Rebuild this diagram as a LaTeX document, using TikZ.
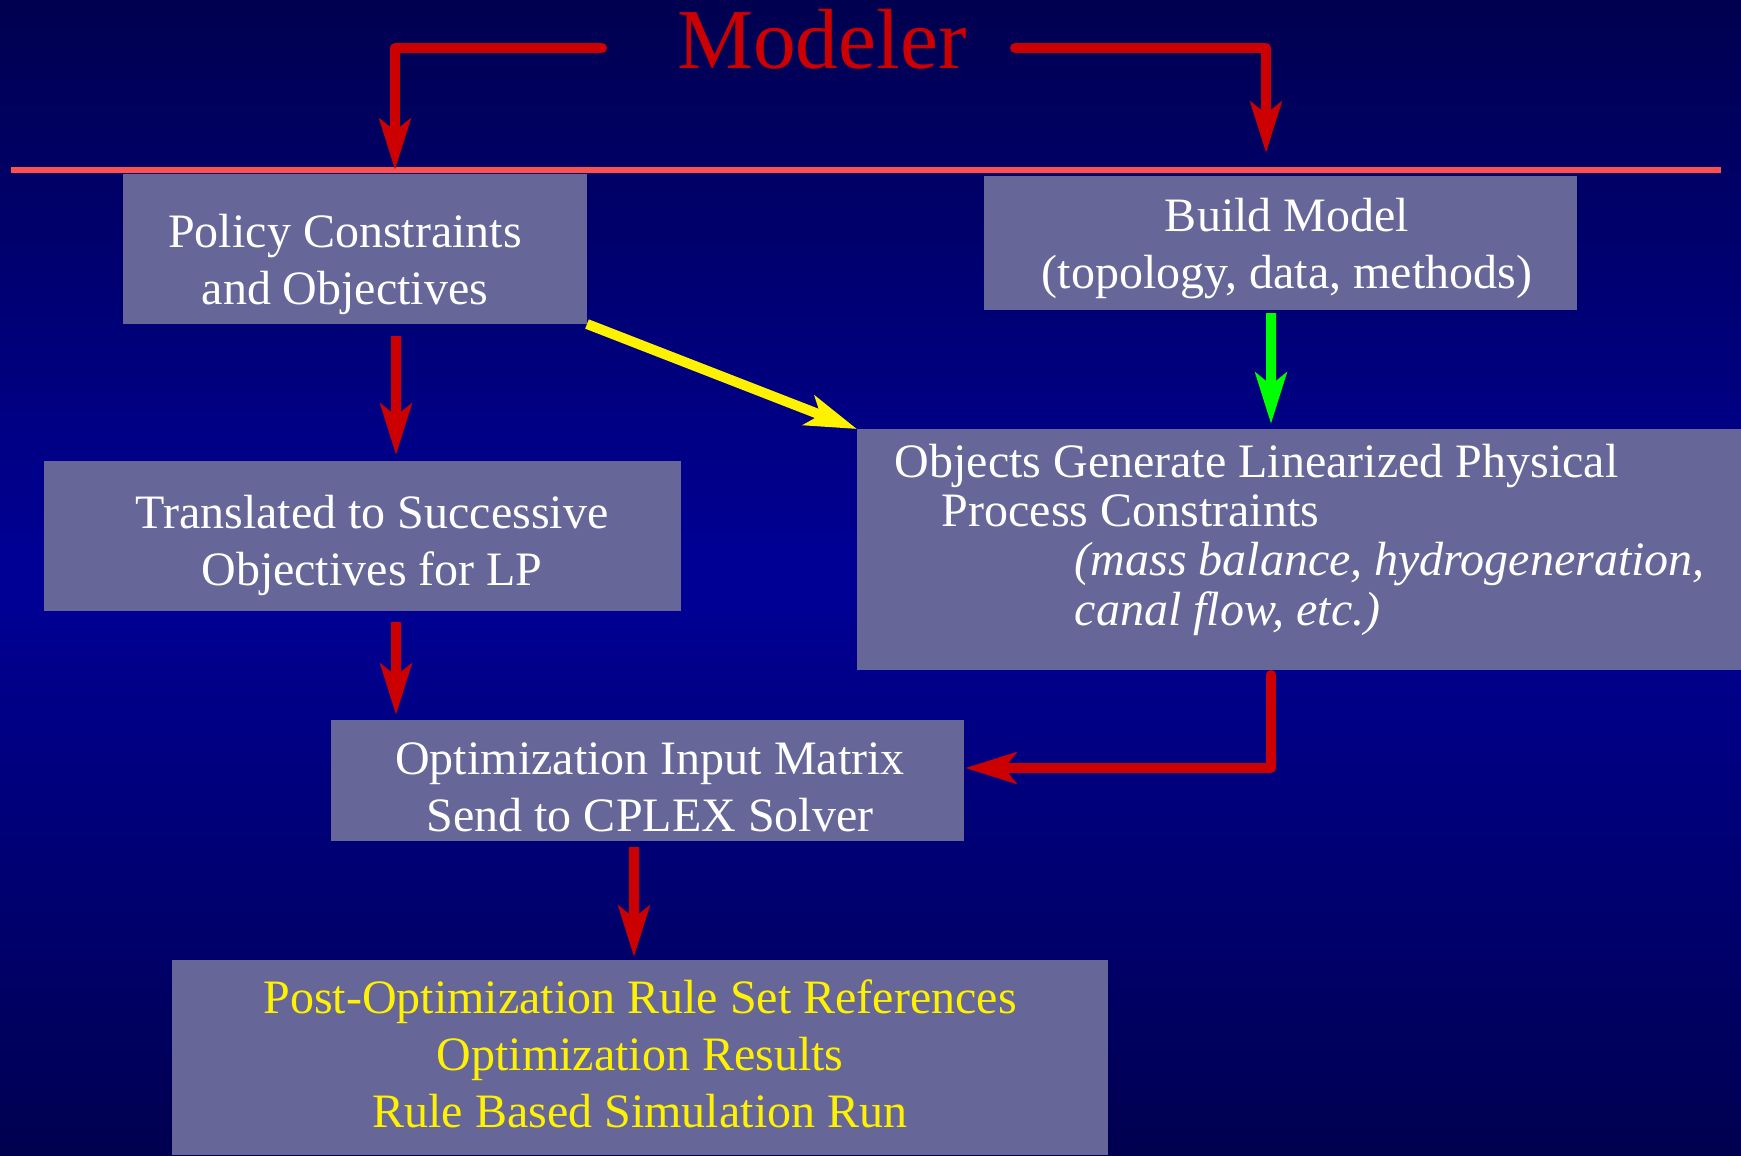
\documentclass[tikz,border=0pt]{standalone}
\usepackage{fontspec}
\setmainfont{Liberation Serif}
\usetikzlibrary{arrows.meta}

\definecolor{bgdark}{RGB}{0,0,80}
\definecolor{bgmid}{RGB}{0,0,150}
\definecolor{boxfill}{RGB}{102,102,153}
\definecolor{arrowred}{RGB}{204,0,0}
\definecolor{rulered}{RGB}{255,80,80}

\newcommand{\boxfont}{\fontsize{13.66pt}{16.22pt}\selectfont}
\newcommand{\objfont}{\fontsize{13.66pt}{13.95pt}\selectfont}

\begin{document}
\begin{tikzpicture}[x=0.1mm, y=-0.1mm,
  box/.style={fill=boxfill, inner sep=0, outer sep=0},
  txt/.style={text=white, inner sep=0, align=center, font=\boxfont, anchor=base},
  arr/.style={line width=1mm, -{Stealth[length=5.1mm, width=3.1mm, inset=1.2mm]}},
  redarr/.style={arr, draw=arrowred, line cap=round, line join=round}]
% background
\shade[top color=bgdark, bottom color=bgmid] (0,0) rectangle (1741,578);
\shade[top color=bgmid, bottom color=bgdark] (0,577) rectangle (1741,1155);
\useasboundingbox (0,0) rectangle (1741,1155);
\draw[rulered, line width=0.55mm] (11,170) -- (1721,170);
% title
\node[text=arrowred, font=\fontsize{24.3pt}{29pt}\selectfont, inner sep=0, anchor=base] (modeler) at (822,68) {Modeler};
\coordinate (m-left) at (602,48);
\coordinate (m-right) at (1015,48);
% boxes
\node[box, minimum width=46.4mm, minimum height=15mm] (policy) at (355,249) {};
\node[box, minimum width=59.3mm, minimum height=13.4mm] (build) at (1280.5,243) {};
\node[box, minimum width=63.7mm, minimum height=15mm] (translate) at (362.5,536) {};
\node[box, minimum width=88.4mm, minimum height=24.1mm] (objects) at (1299,549.5) {};
\node[box, minimum width=63.3mm, minimum height=12.1mm] (matrix) at (647.5,780.5) {};
\node[box, minimum width=93.6mm, minimum height=19.5mm] (post) at (640,1057.5) {};
% texts (anchored at the baseline of the last line)
\node[txt] (policy-t) at (345,304) {Policy Constraints\\and Objectives};
\node[txt] (build-t) at (1287,288) {Build Model\\(topology, data, methods)};
\node[txt] (translate-t) at (372,585) {Translated to Successive\\Objectives for LP};
\node[txt, align=left, anchor=base west, font=\objfont] (objects-t) at (894,625)
  {Objects Generate Linearized Physical\\
   \hspace*{4.7mm}Process Constraints\\
   \hspace*{18mm}\textit{(mass balance, hydrogeneration,}\\
   \hspace*{18mm}\textit{canal flow, etc.)}};
\node[txt] (matrix-t) at (650,831) {Optimization Input Matrix\\Send to CPLEX Solver};
\node[txt, text=yellow] (post-t) at (640,1127) {Post-Optimization Rule Set References\\Optimization Results\\Rule Based Simulation Run};
% arrows
\draw[redarr] (m-left) -| ([xshift=4mm,yshift=0.4mm]policy.north);
\draw[redarr] (m-right) -| ([xshift=-1.45mm,yshift=2.3mm]build.north);
\draw[redarr, line cap=butt] ([xshift=4.1mm,yshift=-1.2mm]policy.south) -- ([xshift=3.35mm,yshift=0.6mm]translate.north);
\draw[arr, draw=yellow] (policy.south east) -- (objects.north west);
\draw[arr, draw=green] ([xshift=-0.95mm,yshift=-0.3mm]build.south) -- ([xshift=-2.8mm,yshift=0.5mm]objects.north);
\draw[redarr, line cap=butt] ([xshift=3.35mm,yshift=-1.1mm]translate.south) -- ([xshift=-25.15mm,yshift=0.5mm]matrix.north);
\draw[redarr] ([xshift=-2.8mm,yshift=-0.5mm]objects.south) |- ([xshift=0.1mm,yshift=1.25mm]matrix.east);
\draw[redarr, line cap=butt] ([xshift=-1.35mm,yshift=-0.6mm]matrix.south) -- ([xshift=-0.6mm,yshift=0.3mm]post.north);
\end{tikzpicture}
\end{document}
